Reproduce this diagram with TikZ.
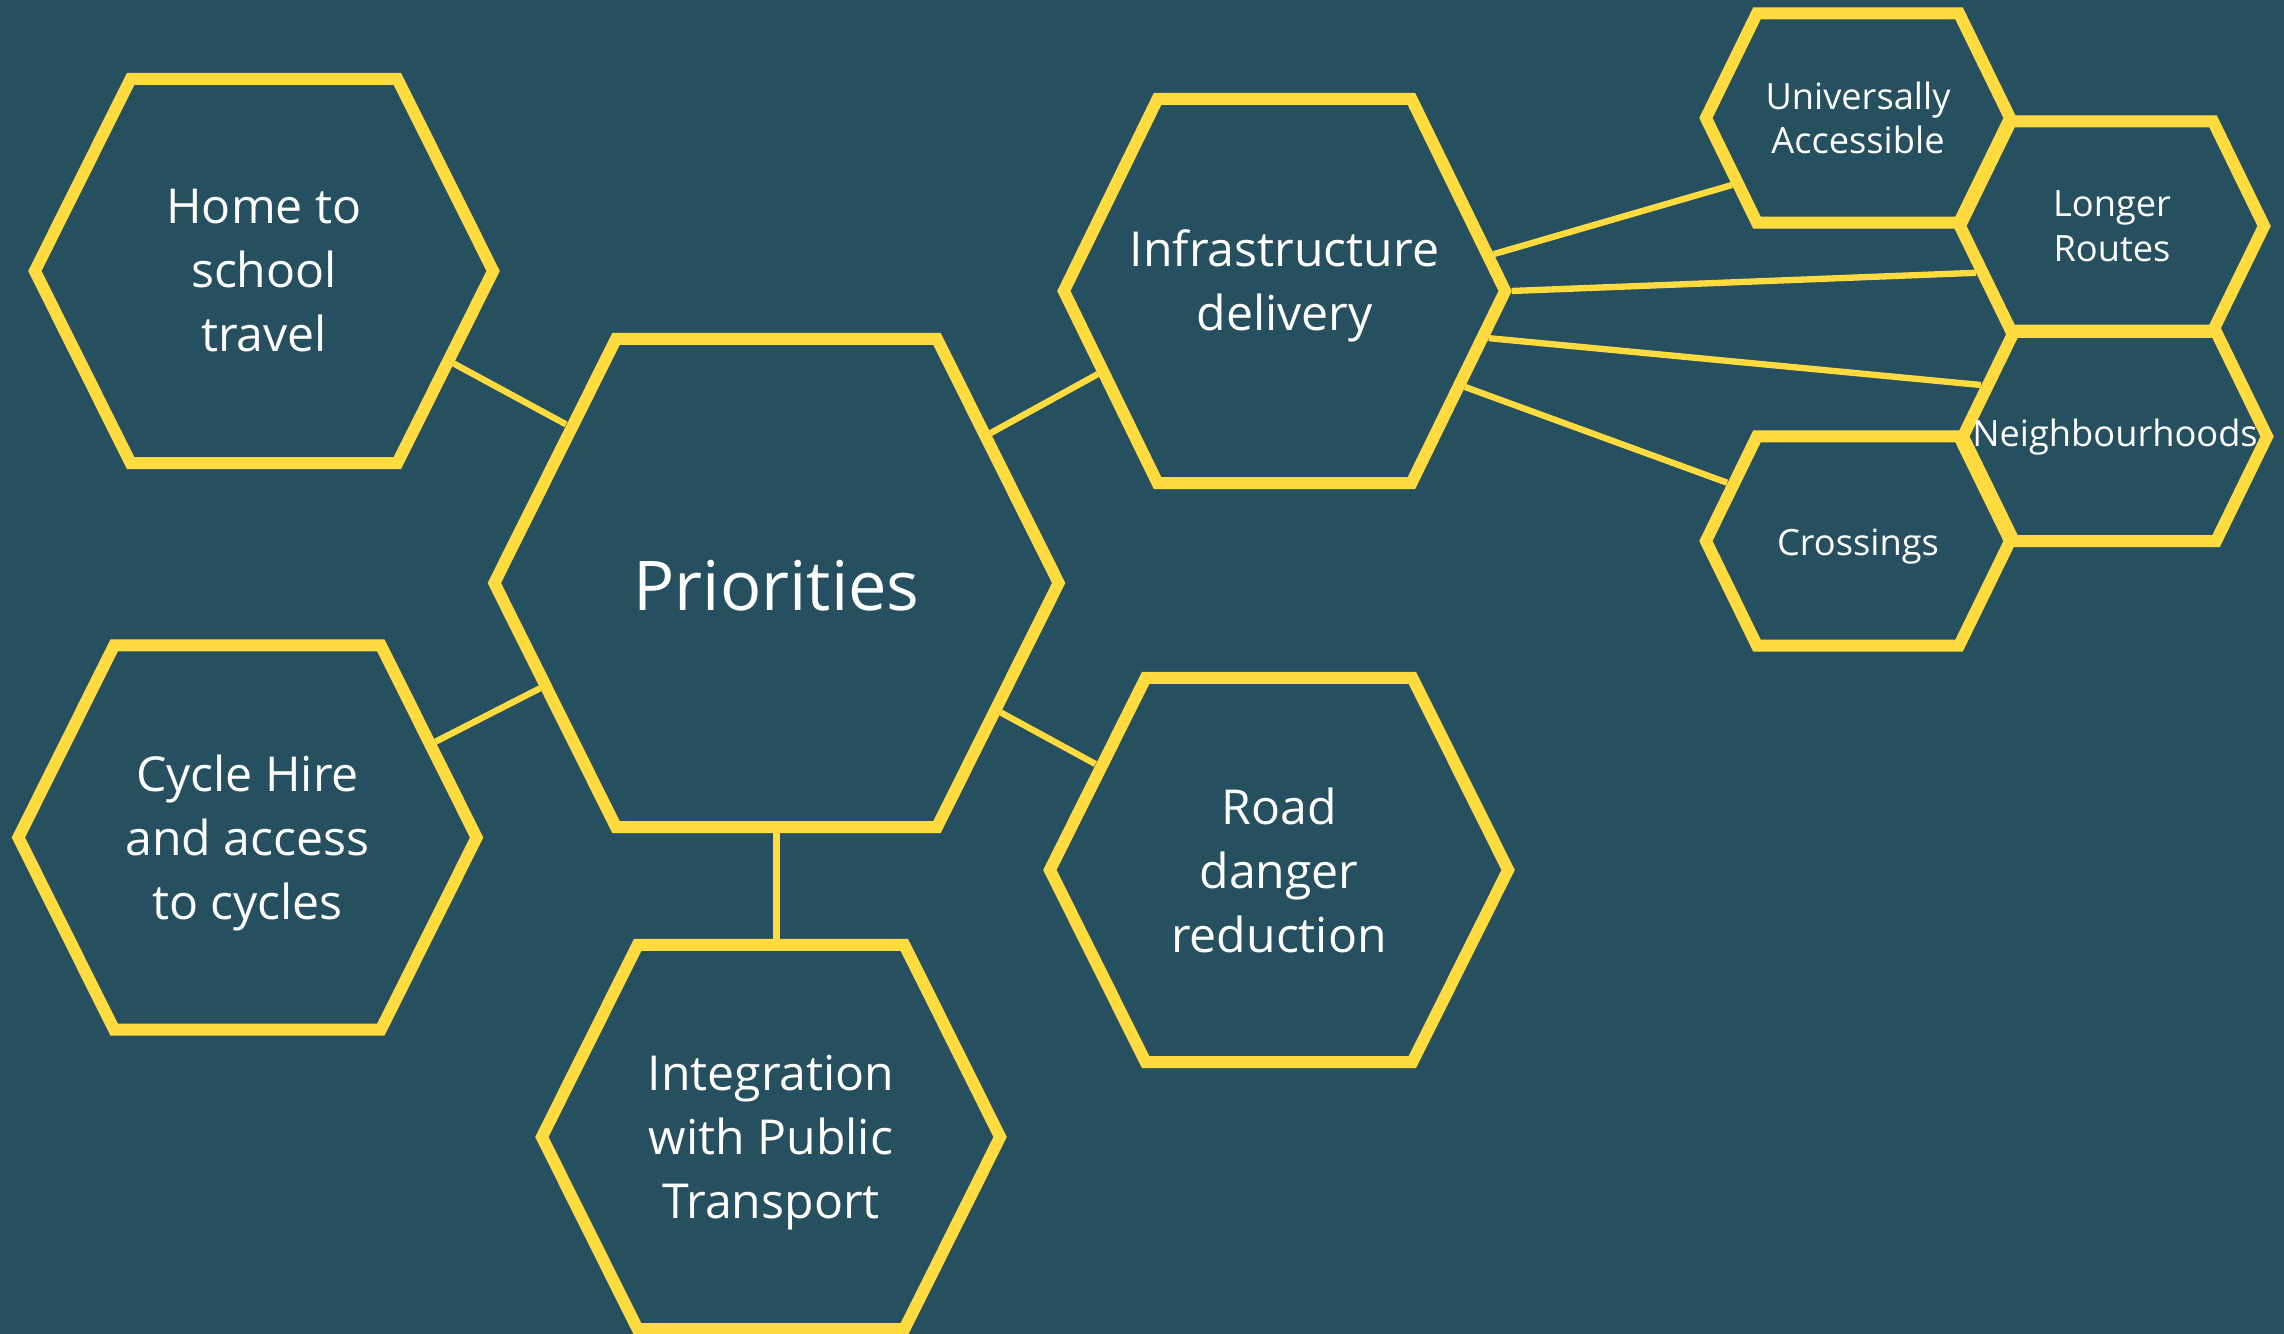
\documentclass[tikz,border=0pt]{standalone}
\usepackage{fontspec}
\setmainfont{Open Sans}
\usetikzlibrary{shapes.symbols}
\definecolor{slate}{RGB}{38,80,95}
\definecolor{honey}{RGB}{255,219,64}
% last line without descender depth
\newcommand{\nodp}[1]{\raisebox{0pt}[\height][0pt]{#1}}
\tikzset{
    %Define standard hexagon
    hexa/.style={
      signal,
      signal to=east and west,
      signal pointer angle=127,
      draw=honey, line width=3.4pt,
      fill=slate,
      text=white,
      align=center,
      inner sep=0pt,
      execute at begin node={\rule{0pt}{0.8em}}},
    prio/.style={
      hexa,
      minimum width=5.64cm,
      minimum height=4.88cm,
      font=\fontsize{19.5}{24}\selectfont},
    bighex/.style={
      hexa,
      minimum width=4.58cm,
      minimum height=3.84cm,
      font=\fontsize{13.7}{18.2}\selectfont},
    smallhex/.style={
      hexa,
      signal pointer angle=128,
      minimum width=3.04cm,
      minimum height=2.09cm,
      font=\fontsize{10.3}{12.7}\selectfont},
    link/.style={
      draw=honey, line width=1.8pt},
}

\begin{document}
\begin{tikzpicture}[x=0.01cm, y=-0.01cm]
    \useasboundingbox (0,0) rectangle (2284,1334);
    \fill[slate] (0,0) rectangle (2284,1334);
    % main cluster
    \node (prio) [prio] at (776.5,583)
          {Priorities};
    \node (home) [bighex] at (264,271)
          {Home to\\school\\travel};
    \node (cycle) [bighex] at (247.5,837.5)
          {Cycle Hire\\and access\\\nodp{to cycles}};
    \node (integ) [bighex] at (771,1137)
          {Integration\\with Public\\\nodp{Transport}};
    \node (road) [bighex] at (1279,870)
          {Road\\danger\\reduction};
    \node (infra) [bighex, minimum width=4.41cm, signal pointer angle=128] at (1284.5,291)
          {\makebox[0pt]{Infrastructure}\\delivery\rule[-6pt]{0pt}{0pt}};
    % infrastructure cluster
    \node (univ) [smallhex] at (1858,118)
          {Universally\\Accessible};
    \node (longer) [smallhex] at (2112,226)
          {Longer\\Routes};
    \node (neigh) [smallhex] at (2115,436.5)
          {\makebox[0pt]{Neighbourhoods}};
    \node (cross) [smallhex] at (1858,541)
          {\nodp{Crossings}};
    % links
    \draw[link] (home.-26) -- (prio.143);
    \draw[link] (cycle.27) -- (prio.-156);
    \draw[link] (prio.south) -- (prio.south |- integ.north);
    \draw[link] (prio.-30) -- (road.150);
    \draw[link] (prio.35) -- (infra.-156);
    \draw[link] (infra.10) -- (univ.-152);
    \draw[link] (infra.east) -- (longer.-161);
    \draw[link] (infra.-13) -- (neigh.159);
    \draw[link] (infra.-28) -- (cross.156);
\end{tikzpicture}
\end{document}
